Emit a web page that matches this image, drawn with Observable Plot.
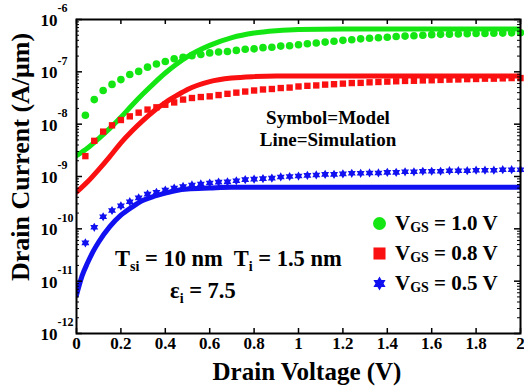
<!DOCTYPE html>
<html><head><meta charset="utf-8">
<script src="https://cdn.jsdelivr.net/npm/d3@7"></script>
<script src="https://cdn.jsdelivr.net/npm/@observablehq/plot@0.6"></script>
<style>
html,body{margin:0;padding:0;background:#fff;}
#chart svg{display:block;}
#chart svg text{font-family:"Liberation Serif","Times New Roman",serif !important;font-weight:bold !important;}
</style>
</head><body><div id="chart"></div>
<script>
// ---- Data (drain current in A/um) ----
const simV = [0,0.05,0.1,0.15,0.2,0.25,0.3,0.35,0.4,0.45,0.5,0.6,0.7,0.8,0.9,1.0,1.2,1.4,1.6,1.8,2.0];
const simGreen = [2.5e-9,3.5e-9,5.3e-9,8.3e-9,1.35e-8,2.3e-8,3.8e-8,6.1e-8,9.5e-8,1.4e-7,1.95e-7,3.2e-7,4.5e-7,5.5e-7,6.1e-7,6.45e-7,6.6e-7,6.6e-7,6.6e-7,6.6e-7,6.6e-7];
const simRed = [5.0e-10,7.9e-10,1.35e-9,2.4e-9,4.4e-9,7.4e-9,1.18e-8,1.8e-8,2.6e-8,3.5e-8,4.6e-8,6.5e-8,7.6e-8,8.1e-8,8.3e-8,8.3e-8,8.3e-8,8.3e-8,8.3e-8,8.3e-8,8.3e-8];
const simVBlue = [0,0.025,0.05,0.075,0.1,0.15,0.2,0.25,0.3,0.35,0.4,0.45,0.5,0.6,0.7,0.8,1.0,1.2,1.4,1.6,1.8,2.0];
const simBlue = [5.4e-12,1.26e-11,2.24e-11,3.7e-11,5.6e-11,1.1e-10,1.82e-10,2.6e-10,3.5e-10,4.2e-10,4.8e-10,5.4e-10,5.75e-10,6.0e-10,6.2e-10,6.2e-10,6.2e-10,6.2e-10,6.2e-10,6.2e-10,6.2e-10,6.2e-10];

const modelV = [0.04,0.08,0.12,0.16,0.20,0.24,0.28,0.32,0.36,0.40,0.44,0.48,0.52,0.56,0.60,0.64,0.68,0.72,0.76,0.80,0.84,0.88,0.92,0.96,1.00,
  1.04,1.08,1.12,1.16,1.20,1.24,1.28,1.32,1.36,1.40,1.44,1.48,1.52,1.56,1.60,1.64,1.68,1.72,1.76,1.80,1.84,1.88,1.92,1.96,2.00];
const modelGreen = [1.48e-8,2.95e-8,4.4e-8,5.75e-8,7.1e-8,8.9e-8,1.02e-7,1.23e-7,1.41e-7,1.58e-7,1.78e-7,1.9e-7,2.04e-7,2.14e-7,2.3e-7,2.4e-7,2.45e-7,2.57e-7,2.7e-7,2.75e-7,2.9e-7,2.95e-7,3.1e-7,3.16e-7,3.3e-7,
  3.43e-7,3.55e-7,3.7e-7,3.85e-7,4.0e-7,4.1e-7,4.27e-7,4.37e-7,4.47e-7,4.57e-7,4.73e-7,4.82e-7,4.9e-7,5.0e-7,5.13e-7,5.2e-7,5.25e-7,5.3e-7,5.37e-7,5.4e-7,5.43e-7,5.47e-7,5.5e-7,5.56e-7,5.6e-7];
const modelRed = [2.45e-9,4.8e-9,7.2e-9,9.5e-9,1.2e-8,1.41e-8,1.66e-8,1.9e-8,2.1e-8,2.35e-8,2.6e-8,2.95e-8,3.16e-8,3.3e-8,3.4e-8,3.6e-8,3.8e-8,4.0e-8,4.2e-8,4.4e-8,4.6e-8,4.7e-8,4.9e-8,5.0e-8,5.25e-8,
  5.4e-8,5.5e-8,5.7e-8,5.8e-8,5.95e-8,6.1e-8,6.15e-8,6.3e-8,6.4e-8,6.5e-8,6.6e-8,6.7e-8,6.75e-8,6.85e-8,6.9e-8,7.0e-8,7.1e-8,7.15e-8,7.25e-8,7.3e-8,7.4e-8,7.4e-8,7.5e-8,7.6e-8,7.6e-8];
const modelBlue = [5.4e-11,1.07e-10,1.7e-10,2.24e-10,2.75e-10,3.3e-10,3.9e-10,4.6e-10,5.0e-10,5.5e-10,6.0e-10,6.45e-10,6.9e-10,7.2e-10,7.5e-10,7.8e-10,7.9e-10,8.3e-10,8.7e-10,8.9e-10,9.1e-10,9.3e-10,9.8e-10,1.0e-9,1.02e-9,
  1.05e-9,1.07e-9,1.1e-9,1.1e-9,1.12e-9,1.15e-9,1.15e-9,1.17e-9,1.17e-9,1.2e-9,1.2e-9,1.23e-9,1.23e-9,1.26e-9,1.26e-9,1.26e-9,1.29e-9,1.29e-9,1.29e-9,1.32e-9,1.32e-9,1.32e-9,1.35e-9,1.35e-9,1.35e-9];

const xTicks = [0,0.2,0.4,0.6,0.8,1,1.2,1.4,1.6,1.8,2];
const xTickLabels = ["0","0.2","0.4","0.6","0.8","1","1.2","1.4","1.6","1.8","2"];
const yTicks = [1e-12,1e-11,1e-10,1e-9,1e-8,1e-7,1e-6];
const yTickExponents = ["-12","-11","-10","-9","-8","-7","-6"];
const legendLabels = ["1.0","0.8","0.5"];

// ---- Styling ----
const GREEN = "#14e614", RED = "#fa1010", BLUE = "#1010f0";
const FONT = "Liberation Serif";
const W = 524, H = 388, ML = 76, MR = 4, MT = 19, MB = 55;
const PW = W - ML - MR, PH = H - MT - MB;

const yMinor = yTicks.slice(0, -1).flatMap(p => [2,3,4,5,6,7,8,9].map(k => k * p));

const hexagram = {
  draw(ctx, size) {
    const R = Math.sqrt(size / Math.PI), r = R / Math.sqrt(3);
    for (let i = 0; i < 12; i++) {
      const rad = i % 2 ? r : R, a = i * Math.PI / 6 - Math.PI / 2;
      const px = rad * Math.cos(a), py = rad * Math.sin(a);
      i ? ctx.lineTo(px, py) : ctx.moveTo(px, py);
    }
    ctx.closePath();
  }
};

const idx = (arr) => arr.map((d, i) => i);

const chart = Plot.plot({
  width: W, height: H, marginLeft: ML, marginRight: MR, marginTop: MT, marginBottom: MB,
  style: {background: "white", color: "black", overflow: "visible", fontFamily: FONT},
  x: {domain: [0, 2], axis: null},
  y: {type: "log", domain: [1e-12, 1e-6], axis: null},
  marks: [
    Plot.line(idx(simGreen), {x: i => simV[i], y: i => simGreen[i], stroke: GREEN, strokeWidth: 5, curve: "monotone-x", clip: true}),
    Plot.line(idx(simRed), {x: i => simV[i], y: i => simRed[i], stroke: RED, strokeWidth: 5, curve: "monotone-x", clip: true}),
    Plot.line(idx(simBlue), {x: i => simVBlue[i], y: i => simBlue[i], stroke: BLUE, strokeWidth: 5, curve: "monotone-x", clip: true}),
    Plot.dot(idx(modelGreen), {x: i => modelV[i], y: i => modelGreen[i], r: 3.8, fill: GREEN, symbol: "circle"}),
    Plot.dot(idx(modelRed), {x: i => modelV[i], y: i => modelRed[i], r: 3.6, fill: RED, symbol: "square"}),
    Plot.dot(idx(modelBlue), {x: i => modelV[i], y: i => modelBlue[i], r: 4.6, fill: BLUE, symbol: hexagram}),
    Plot.frame({stroke: "black", strokeWidth: 2}),
    Plot.tickX(xTicks, {x: d => d, insetTop: PH - 5, stroke: "black", strokeWidth: 1.5}),
    Plot.tickX(xTicks, {x: d => d, insetBottom: PH - 5, stroke: "black", strokeWidth: 1.5}),
    Plot.tickY(yTicks, {y: d => d, insetRight: PW - 6, stroke: "black", strokeWidth: 1.5}),
    Plot.tickY(yTicks, {y: d => d, insetLeft: PW - 6, stroke: "black", strokeWidth: 1.5}),
    Plot.tickY(yMinor, {y: d => d, insetRight: PW - 3, stroke: "black", strokeWidth: 1}),
    Plot.tickY(yMinor, {y: d => d, insetLeft: PW - 3, stroke: "black", strokeWidth: 1}),
    Plot.text(xTicks, {x: d => d, text: (d, i) => xTickLabels[i], frameAnchor: "bottom", dy: 15, fontSize: 17, fontWeight: "bold", fontFamily: FONT, fill: "black"}),
    Plot.text(yTicks, {y: d => d, text: () => "10", frameAnchor: "left", dx: -19, dy: 1, textAnchor: "end", fontSize: 17, fontWeight: "bold", fontFamily: FONT, fill: "black"}),
    Plot.text(yTicks, {y: d => d, text: (d, i) => yTickExponents[i], frameAnchor: "left", dx: -19, dy: -11, textAnchor: "start", fontSize: 12, fontWeight: "bold", fontFamily: FONT, fill: "black"}),
    Plot.dot([0], {frameAnchor: "top-left", dx: 303, dy: 204, r: 6.5, fill: GREEN, symbol: "circle"}),
    Plot.dot([0], {frameAnchor: "top-left", dx: 303, dy: 234, r: 6.8, fill: RED, symbol: "square"}),
    Plot.dot([0], {frameAnchor: "top-left", dx: 303, dy: 264, r: 7, fill: BLUE, symbol: hexagram})
  ]
});
document.getElementById("chart").appendChild(chart);

// ---- Text annotations with sub/superscripts ----
const svg = d3.select(chart);
const g = svg.append("g").attr("fill", "black").attr("font-family", FONT).attr("font-weight", "bold").style("white-space", "pre");
function rich(x, y, size, parts, anchor = "start") {
  const t = g.append("text").attr("x", x).attr("y", y).attr("font-size", size).attr("text-anchor", anchor);
  parts.forEach(p => {
    const s = t.append("tspan").text(p.t);
    if (p.size) s.attr("font-size", p.size);
    if (p.dy) s.attr("dy", p.dy);
  });
  return t;
}
rich(328, 123.5, 19, [{t: "Symbol=Model"}], "middle");
rich(328, 145.5, 19, [{t: "Line=Simulation"}], "middle");
rich(115, 266, 22.5, [{t: "T"}, {t: "si", size: 14, dy: 5}, {t: " = 10 nm  T", dy: -5}, {t: "i", size: 14, dy: 5}, {t: " = 1.5 nm", dy: -5}]);
rich(170, 298, 22.5, [{t: "\u03b5"}, {t: "i", size: 14, dy: 5}, {t: " = 7.5", dy: -5}]);
legendLabels.forEach((lab, k) => {
  rich(395, 230 + 30 * k, 21, [{t: "V"}, {t: "GS", size: 14, dy: 2}, {t: " = " + lab + " V", dy: -2}]);
});
rich(307, 380, 25, [{t: "Drain Voltage (V)"}], "middle");
g.append("text").attr("transform", "translate(29,157) rotate(-90)").attr("text-anchor", "middle").attr("font-size", 26).text("Drain Current (A/\u03bcm)");
</script></body></html>
